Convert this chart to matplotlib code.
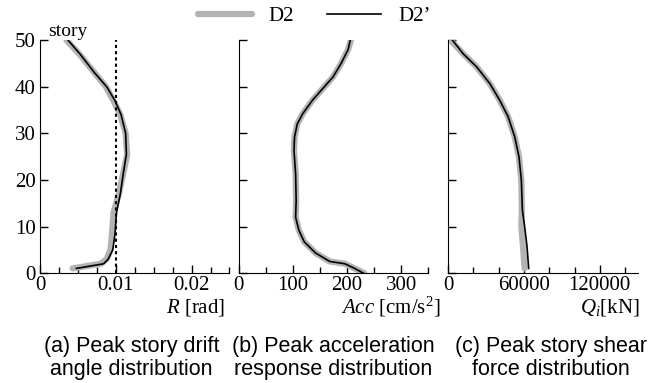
import numpy as np
import matplotlib
matplotlib.use('Agg')
import matplotlib.pyplot as plt
from matplotlib.lines import Line2D
from matplotlib.ticker import MultipleLocator

plt.rcParams['font.family'] = 'Liberation Serif'
plt.rcParams['mathtext.fontset'] = 'custom'
plt.rcParams['mathtext.rm'] = 'Liberation Serif'
plt.rcParams['mathtext.it'] = 'Liberation Serif:italic'

# (a) peak story drift angle [rad]
drift_story = [1, 2, 3, 5, 8.5, 13, 17, 21.5, 25.5, 30, 34, 37, 40, 43, 47, 50]
drift_D2 = [0.0043, 0.0080, 0.0088, 0.0093, 0.0095, 0.0097, 0.0104, 0.0110, 0.0115,
            0.0113, 0.0106, 0.0097, 0.0087, 0.0072, 0.0052, 0.0035]
drift_D2p = [0.0048, 0.0084, 0.0090, 0.0096, 0.0099, 0.0101, 0.0106, 0.0110, 0.0114,
             0.0113, 0.0107, 0.0099, 0.0088, 0.0072, 0.0053, 0.0037]

# (b) peak acceleration response [cm/s2]
acc_story = [0, 1, 2, 2.5, 4.3, 6.7, 9.2, 12, 15.6, 21.3, 26.3, 29.2, 32, 34.2,
             37.1, 39.6, 42.1, 45, 48, 50]
acc_D2 = [232, 214, 196, 168, 142, 121, 111, 105, 106, 105, 102, 103, 108, 118,
          136, 155, 174, 189, 202, 207]
acc_D2p = [230, 214, 196, 168, 142, 121, 111, 105, 106, 105, 102, 103, 108, 118,
           136, 155, 174, 189, 202, 206]

# (c) peak story shear force [kN]
shear_story = [1, 5.7, 10, 13.6, 20, 25, 29.3, 33.6, 37.1, 40.7, 44.3, 47.1, 50]
shear_D2 = [60500, 59200, 57900, 58300, 57900, 56000, 52600, 47400, 40800, 32900,
            22400, 11800, 2000]
shear_D2p = [63700, 62400, 60500, 58700, 57900, 56000, 52600, 47400, 40800, 32900,
             22400, 11800, 3400]

gray = '#b3b3b3'
fig = plt.figure(figsize=(6.67, 3.83), dpi=100)

panels = [
    (0.060, drift_D2, drift_D2p, drift_story, 0.025, 0.01, 0.0025, ['0', '0.01', '0.02']),
    (0.358, acc_D2, acc_D2p, acc_story, 350, 100, 50, ['0', '100', '200', '300']),
    (0.672, shear_D2, shear_D2p, shear_story, 150000, 60000, 20000, ['0', '60000', '120000']),
]
axes = []
for left, d2, d2p, st, xmax, major, minor, labels in panels:
    ax = fig.add_axes([left, 0.287, 0.284, 0.608])
    ax.plot(d2, st, color=gray, lw=4.5, solid_capstyle='round', solid_joinstyle='round')
    ax.plot(d2p, st, color='black', lw=1.2)
    ax.set_xlim(0, xmax)
    ax.set_ylim(0, 50)
    ax.spines['top'].set_visible(False)
    ax.spines['right'].set_visible(False)
    ax.xaxis.set_minor_locator(MultipleLocator(minor))
    ax.set_xticks(np.arange(len(labels)) * major)
    ax.set_xticklabels(labels)
    ax.yaxis.set_major_locator(MultipleLocator(10))
    ax.tick_params(axis='both', direction='in', length=6, width=1, labelsize=15, pad=3)
    ax.tick_params(axis='x', which='minor', direction='in', length=4, width=1)
    ax.tick_params(axis='x', pad=2)
    axes.append(ax)

axes[1].set_yticklabels([])
axes[2].set_yticklabels([])

# reference line at R = 0.01
axes[0].axvline(0.01, ymin=0, ymax=1, color='black', ls=(0, (1.5, 1.5)), lw=1.5)
axes[0].text(0.045, 1.0, 'story', transform=axes[0].transAxes, fontsize=14,
             ha='left', va='bottom')

fig.text(0.338, 0.198, r'$R$ [rad]', ha='right', va='center', fontsize=15)
fig.text(0.660, 0.198, r'$Acc$ [cm/s$^2$]', ha='right', va='center', fontsize=15)
fig.text(0.958, 0.198, r'$Q_i$[kN]', ha='right', va='center', fontsize=15)

captions = ['(a) Peak story drift\nangle distribution',
            '(b) Peak acceleration\nresponse distribution',
            '(c) Peak story shear\nforce distribution']
for cx, cap in zip([0.197, 0.500, 0.826], captions):
    fig.text(cx, 0.066, cap, ha='center', va='center', fontsize=15.5,
             family='Liberation Sans', linespacing=1.15)

handles = [Line2D([], [], color=gray, lw=4.5, solid_capstyle='round'),
           Line2D([], [], color='black', lw=1.2)]
fig.legend(handles, ['D2', 'D2\u2019'], loc='center', bbox_to_anchor=(0.471, 0.958),
           ncol=2, frameon=False, fontsize=15, handlelength=2.6,
           handletextpad=0.8, columnspacing=1.6, borderpad=0.2)

fig.savefig('out.png', dpi=100)
